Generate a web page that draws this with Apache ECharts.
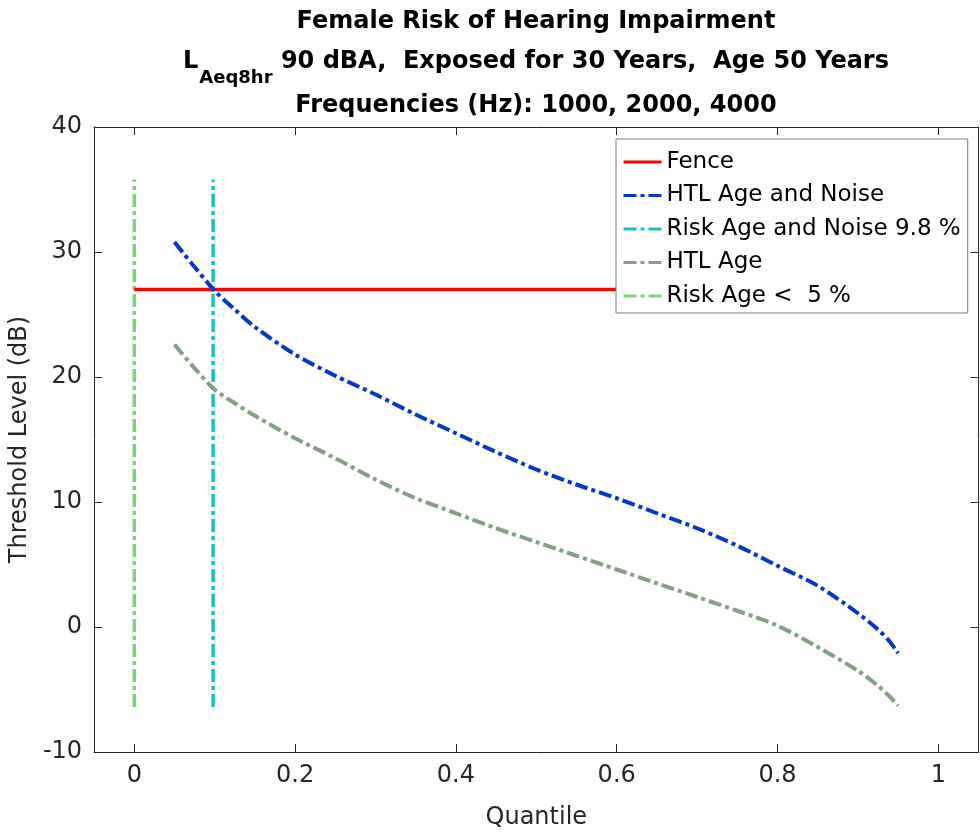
<!DOCTYPE html>
<html>
<head>
<meta charset="utf-8">
<script src="https://cdn.jsdelivr.net/npm/echarts@6/dist/echarts.min.js"></script>
<style>
  html, body { margin: 0; padding: 0; background: #fff; }
  #chart { width: 980px; height: 835px; }
</style>
</head>
<body>
<div id="chart"></div>
<script>
// Quantiles at which the hearing threshold levels were evaluated
const quantiles = [0.05, 0.075, 0.1, 0.125, 0.15, 0.2, 0.25, 0.3, 0.35, 0.4, 0.45, 0.5,
                   0.55, 0.6, 0.65, 0.7, 0.75, 0.8, 0.85, 0.9, 0.925, 0.94, 0.95];
// Hearing threshold level (dB), age and noise combined
const htlAgeNoise = [30.8, 28.8, 26.9, 25.4, 24.0, 21.8, 20.1, 18.6, 17.0, 15.5, 14.0, 12.6,
                     11.4, 10.3, 9.1, 7.9, 6.5, 4.9, 3.3, 1.1, -0.2, -1.2, -2.1];
// Hearing threshold level (dB), age only
const htlAge = [22.6, 20.7, 19.0, 17.9, 16.9, 15.1, 13.5, 11.8, 10.3, 9.1, 7.9, 6.8,
                5.7, 4.6, 3.5, 2.4, 1.3, 0.1, -1.6, -3.5, -4.7, -5.6, -6.3];
// Low fence (dB) and the quantile span it is drawn over
const fenceLevel = 27;
const fenceSpan = [0, 1];
// Risk quantiles (vertical markers) and their vertical extent
const riskAgeNoise = 0.098;
const riskAge = 0;
const riskSpan = [-6.4, 35.8];
// Axis ranges and tick positions
const xRange = [-0.05, 1.05];
const xTickValues = [0, 0.2, 0.4, 0.6, 0.8, 1];
const yTicks = { min: -10, max: 40, interval: 10 };

const FONT = '"DejaVu Sans", "Liberation Sans", Arial, sans-serif';
const AXIS_COLOR = '#262626';
const DASHDOT = [13, 4, 4, 4];

const pairs = (xs, ys) => xs.map((x, i) => [x, ys[i]]);

const chart = echarts.init(document.getElementById('chart'));

// Box axes: labels on bottom/left only, inward ticks on all four sides
function xAxisDef(position, showLabels) {
  return {
    type: 'value', position: position,
    min: xRange[0], max: xRange[1],
    name: showLabels ? 'Quantile' : '',
    nameLocation: 'middle', nameGap: 54,
    nameTextStyle: { color: AXIS_COLOR, fontFamily: FONT, fontSize: 24 },
    axisLine: { show: true, onZero: false, lineStyle: { color: AXIS_COLOR, width: 1 } },
    axisTick: { show: true, inside: true, length: 8, customValues: xTickValues,
                lineStyle: { color: AXIS_COLOR } },
    axisLabel: {
      show: showLabels, color: AXIS_COLOR, fontFamily: FONT, fontSize: 24, margin: 12,
      customValues: xTickValues,
      formatter: v => String(+v.toFixed(1))
    },
    splitLine: { show: false }
  };
}
function yAxisDef(position, showLabels) {
  return {
    type: 'value', position: position,
    min: yTicks.min, max: yTicks.max, interval: yTicks.interval,
    name: showLabels ? 'Threshold Level (dB)' : '',
    nameLocation: 'middle', nameGap: 57,
    nameTextStyle: { color: AXIS_COLOR, fontFamily: FONT, fontSize: 24 },
    axisLine: { show: true, onZero: false, lineStyle: { color: AXIS_COLOR, width: 1 } },
    axisTick: { show: true, inside: true, length: 8, lineStyle: { color: AXIS_COLOR } },
    axisLabel: { show: showLabels, color: AXIS_COLOR, fontFamily: FONT, fontSize: 24, margin: 12 },
    splitLine: { show: false }
  };
}

const option = {
  animation: false,
  backgroundColor: '#ffffff',
  textStyle: { fontFamily: FONT },
  grid: { left: 92, right: 1.5, top: 127, bottom: 81, containLabel: false },
  xAxis: [xAxisDef('bottom', true), xAxisDef('top', false)],
  yAxis: [yAxisDef('left', true), yAxisDef('right', false)],
  legend: {
    orient: 'vertical',
    left: 616, top: 139,
    padding: [11, 7, 5, 6],
    itemWidth: 38, itemHeight: 12, itemGap: 9.5,
    backgroundColor: '#ffffff',
    borderColor: '#7a7a7a', borderWidth: 1,
    itemStyle: { opacity: 0 },
    lineStyle: { width: 3 },
    textStyle: { color: '#000', fontFamily: FONT, fontSize: 23, lineHeight: 24 },
    data: ['Fence', 'HTL Age and Noise', 'Risk Age and Noise 9.8 %', 'HTL Age', 'Risk Age <  5 %']
  },
  graphic: [
    {
      type: 'text', x: 536, y: 22, z: 10,
      style: {
        text: 'Female Risk of Hearing Impairment',
        font: 'bold 24px ' + FONT, fill: '#000',
        textAlign: 'center', textVerticalAlign: 'middle'
      }
    },
    {
      type: 'text', x: 536, y: 50, z: 10,
      style: {
        text: '{b|L}{c|Aeq8hr}{b| 90 dBA,  Exposed for 30 Years,  Age 50 Years}',
        fill: '#000',
        textAlign: 'center', textVerticalAlign: 'top',
        rich: {
          b: { font: 'bold 24px ' + FONT, lineHeight: 28, verticalAlign: 'top', fill: '#000' },
          c: { font: 'bold 18px ' + FONT, lineHeight: 20, padding: [19, 0, 0, 1], verticalAlign: 'top', fill: '#000' }
        }
      }
    },
    {
      type: 'text', x: 536, y: 106, z: 10,
      style: {
        text: 'Frequencies (Hz): 1000, 2000, 4000',
        font: 'bold 24px ' + FONT, fill: '#000',
        textAlign: 'center', textVerticalAlign: 'middle'
      }
    }
  ],
  series: [
    {
      name: 'Fence', type: 'line', symbol: 'none', z: 3,
      data: [[fenceSpan[0], fenceLevel], [fenceSpan[1], fenceLevel]],
      lineStyle: { color: '#ff0000', width: 3.5, type: 'solid' },
      itemStyle: { color: '#ff0000' }
    },
    {
      name: 'HTL Age and Noise', type: 'line', symbol: 'none', smooth: 0.3, z: 4,
      data: pairs(quantiles, htlAgeNoise),
      lineStyle: { color: '#0638c8', width: 4, type: DASHDOT },
      itemStyle: { color: '#0638c8' }
    },
    {
      name: 'Risk Age and Noise 9.8 %', type: 'line', symbol: 'none', z: 2,
      data: [[riskAgeNoise, riskSpan[0]], [riskAgeNoise, riskSpan[1]]],
      lineStyle: { color: '#12c2c2', width: 3.5, type: DASHDOT },
      itemStyle: { color: '#12c2c2' }
    },
    {
      name: 'HTL Age', type: 'line', symbol: 'none', smooth: 0.3, z: 4,
      data: pairs(quantiles, htlAge),
      lineStyle: { color: '#84a084', width: 4, type: DASHDOT },
      itemStyle: { color: '#84a084' }
    },
    {
      name: 'Risk Age <  5 %', type: 'line', symbol: 'none', z: 2,
      data: [[riskAge, riskSpan[0]], [riskAge, riskSpan[1]]],
      lineStyle: { color: '#78d878', width: 3.5, type: DASHDOT },
      itemStyle: { color: '#78d878' }
    }
  ]
};

chart.setOption(option);
</script>
</body>
</html>
